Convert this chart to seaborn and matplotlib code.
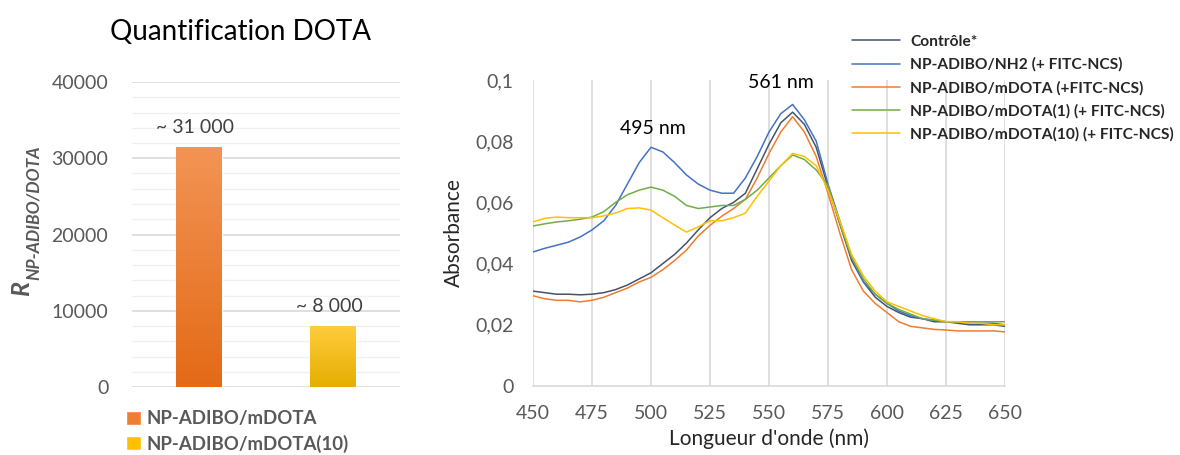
import numpy as np
import pandas as pd
import matplotlib
matplotlib.use("Agg")
import matplotlib.pyplot as plt
import seaborn as sns
from matplotlib.patches import Patch
from matplotlib.colors import LinearSegmentedColormap

# ---------------- data ----------------
bar_labels = ["NP-ADIBO/mDOTA", "NP-ADIBO/mDOTA(10)"]
bar_values = [31500, 8000]
bar_texts = ["~ 31 000", "~ 8 000"]

wavelength = list(range(450, 651, 5))
controle = [0.031, 0.0305, 0.030, 0.030, 0.0298, 0.030, 0.0305, 0.0315, 0.033, 0.035,
            0.037, 0.040, 0.043, 0.0467, 0.051, 0.055, 0.058, 0.060, 0.063, 0.071,
            0.079, 0.086, 0.0895, 0.0855, 0.078, 0.065, 0.053, 0.041, 0.034, 0.029,
            0.026, 0.024, 0.0225, 0.022, 0.021, 0.021, 0.0205, 0.020, 0.020, 0.020, 0.0195]
nh2 = [0.0438, 0.045, 0.046, 0.047, 0.0487, 0.051, 0.054, 0.059, 0.066, 0.073,
       0.078, 0.0765, 0.073, 0.069, 0.066, 0.064, 0.063, 0.063, 0.068, 0.075,
       0.083, 0.089, 0.092, 0.087, 0.080, 0.066, 0.054, 0.042, 0.034, 0.030,
       0.027, 0.0245, 0.023, 0.022, 0.0215, 0.021, 0.021, 0.0205, 0.0205, 0.0205, 0.020]
mdota = [0.0295, 0.0285, 0.028, 0.028, 0.0275, 0.028, 0.029, 0.0305, 0.032, 0.034,
         0.0355, 0.038, 0.041, 0.0444, 0.049, 0.0525, 0.0555, 0.058, 0.061, 0.068,
         0.076, 0.083, 0.088, 0.083, 0.075, 0.063, 0.050, 0.038, 0.031, 0.027,
         0.024, 0.021, 0.0195, 0.019, 0.0185, 0.0183, 0.018, 0.018, 0.018, 0.018, 0.0177]
mdota1 = [0.0523, 0.053, 0.0536, 0.054, 0.0545, 0.0552, 0.057, 0.060, 0.0625, 0.064,
          0.065, 0.064, 0.062, 0.059, 0.058, 0.0585, 0.059, 0.059, 0.061, 0.064,
          0.068, 0.072, 0.0755, 0.074, 0.0706, 0.0655, 0.053, 0.042, 0.035, 0.030,
          0.027, 0.025, 0.0235, 0.022, 0.0215, 0.021, 0.021, 0.021, 0.021, 0.021, 0.021]
mdota10 = [0.0536, 0.0548, 0.0552, 0.055, 0.055, 0.055, 0.0556, 0.0565, 0.058, 0.0582,
           0.0575, 0.055, 0.0526, 0.0503, 0.052, 0.054, 0.054, 0.055, 0.0565, 0.062,
           0.067, 0.072, 0.076, 0.075, 0.072, 0.064, 0.054, 0.043, 0.036, 0.031,
           0.0275, 0.026, 0.0245, 0.023, 0.022, 0.021, 0.021, 0.0205, 0.0205, 0.020, 0.020]

series_names = ["Contrôle*", "NP-ADIBO/NH2 (+ FITC-NCS)", "NP-ADIBO/mDOTA (+FITC-NCS)",
                "NP-ADIBO/mDOTA(1) (+ FITC-NCS)", "NP-ADIBO/mDOTA(10) (+ FITC-NCS)"]
series_values = [controle, nh2, mdota, mdota1, mdota10]
series_colors = ["#44546A", "#4472C4", "#ED7D31", "#70AD47", "#FFC000"]

# ---------------- style ----------------
sns.set_style("white")
plt.rcParams["font.family"] = ["Lato", "DejaVu Sans"]
GRAY = "#595959"

fig = plt.figure(figsize=(11.8, 4.55), dpi=100)

# ---------------- left bar chart ----------------
axL = fig.add_axes([132/1180, 1-387/455, 268/1180, 305/455])
bar_df = pd.DataFrame({"cat": bar_labels, "val": bar_values})
sns.barplot(data=bar_df, x="cat", y="val", hue="cat", palette=["#EE7E32", "#FFC000"],
            width=0.336, ax=axL, legend=False, saturation=1, zorder=3)
axL.set_xlim(-0.5, 1.5)
axL.set_ylim(0, 40000)
axL.set_yticks(range(0, 40001, 10000))
axL.set_yticks(range(0, 40001, 2000), minor=True)
axL.grid(axis="y", which="major", color="#D9D9D9", lw=1.2, zorder=0)
axL.grid(axis="y", which="minor", color="#F0F0F0", lw=1.0, zorder=0)
axL.set_axisbelow(True)
for s in axL.spines.values():
    s.set_visible(False)
axL.tick_params(axis="y", which="both", length=0, pad=17, labelsize=14, labelcolor=GRAY)
axL.set_xticks([])
axL.set_xlabel("")
axL.set_ylabel("")

grads = [("#F39455", "#E36A17"), ("#FFCD3E", "#E5AE00")]
for patch, (ctop, cbot) in zip(axL.patches, grads):
    x0, y0 = patch.get_x(), patch.get_y()
    w, h = patch.get_width(), patch.get_height()
    cmap = LinearSegmentedColormap.from_list("g", [cbot, ctop])
    grad = np.linspace(0, 1, 256).reshape(-1, 1)
    im = axL.imshow(grad, extent=[x0, x0 + w, y0, y0 + h], origin="lower",
                    aspect="auto", cmap=cmap, zorder=4)
    im.set_clip_path(patch)
axL.set_xlim(-0.5, 1.5)
axL.set_ylim(0, 40000)

for i, (v, t) in enumerate(zip(bar_values, bar_texts)):
    axL.text(i - 0.03, v + 1400, t, ha="center", va="bottom", fontsize=14, color="#404040")

fig.text(240/1180, 1-32/455, "Quantification DOTA", ha="center", va="center",
         fontsize=20, color="black")
fig.text(22/1180, 1-289/455, "R", rotation=90, ha="center", va="center",
         fontsize=18, fontweight="bold", fontstyle="italic", color=GRAY)
fig.text(34/1180, 1-213/455, "NP-ADIBO/DOTA", rotation=90, ha="center", va="center",
         fontsize=12.5, fontweight="bold", fontstyle="italic", color=GRAY)

leg_handles = [Patch(facecolor="#EE7E32"), Patch(facecolor="#FFC000")]
fig.legend(leg_handles, bar_labels, loc="upper left", bbox_to_anchor=(117/1180, 1-401/455),
           frameon=False, labelcolor=GRAY, handlelength=0.8, handleheight=0.8,
           handletextpad=0.3, labelspacing=0.4, borderpad=0, prop={"weight": "bold", "size": 13.4})

# ---------------- right spectra ----------------
axR = fig.add_axes([533/1180, 1-386/455, 472/1180, 306/455])
rows = []
for name, vals in zip(series_names, series_values):
    for w, v in zip(wavelength, vals):
        rows.append((w, v, name))
spec = pd.DataFrame(rows, columns=["wl", "abs", "serie"])
sns.lineplot(data=spec, x="wl", y="abs", hue="serie", hue_order=series_names,
             palette=series_colors, estimator=None, lw=1.1, ax=axR, legend=False, zorder=3)
axR.set_xlim(450, 650)
axR.set_ylim(0, 0.1)
axR.set_xticks(range(450, 651, 25))
axR.set_yticks([0, 0.02, 0.04, 0.06, 0.08, 0.1])
axR.set_yticklabels(["0", "0,02", "0,04", "0,06", "0,08", "0,1"])
axR.grid(axis="x", color="#D9D9D9", lw=1.2, zorder=0)
axR.grid(axis="y", visible=False)
for side in ["top", "right", "left"]:
    axR.spines[side].set_visible(False)
axR.spines["bottom"].set_color("#D9D9D9")
axR.spines["bottom"].set_linewidth(1.2)
axR.tick_params(axis="both", length=0, labelsize=14, labelcolor=GRAY)
axR.tick_params(axis="y", pad=14)
axR.tick_params(axis="x", pad=14)
axR.set_xlabel("Longueur d'onde (nm)", fontsize=15, color="#262626", labelpad=4)
axR.set_ylabel("Absorbance", fontsize=15, color="#262626", labelpad=8)

axR.text(501, 0.0843, "495 nm", ha="center", va="center", fontsize=14, color="black")
axR.text(555, 0.0993, "561 nm", ha="center", va="center", fontsize=14, color="black")

line_handles = axR.get_lines()[:5]
fig.legend(line_handles, series_names, loc="upper left", bbox_to_anchor=(844/1180, 1-27/455),
           frameon=False, handlelength=3.1, handletextpad=0.65, labelspacing=0.56, borderpad=0,
           prop={"weight": "bold", "size": 11.2})

fig.savefig("out.png", dpi=100)
